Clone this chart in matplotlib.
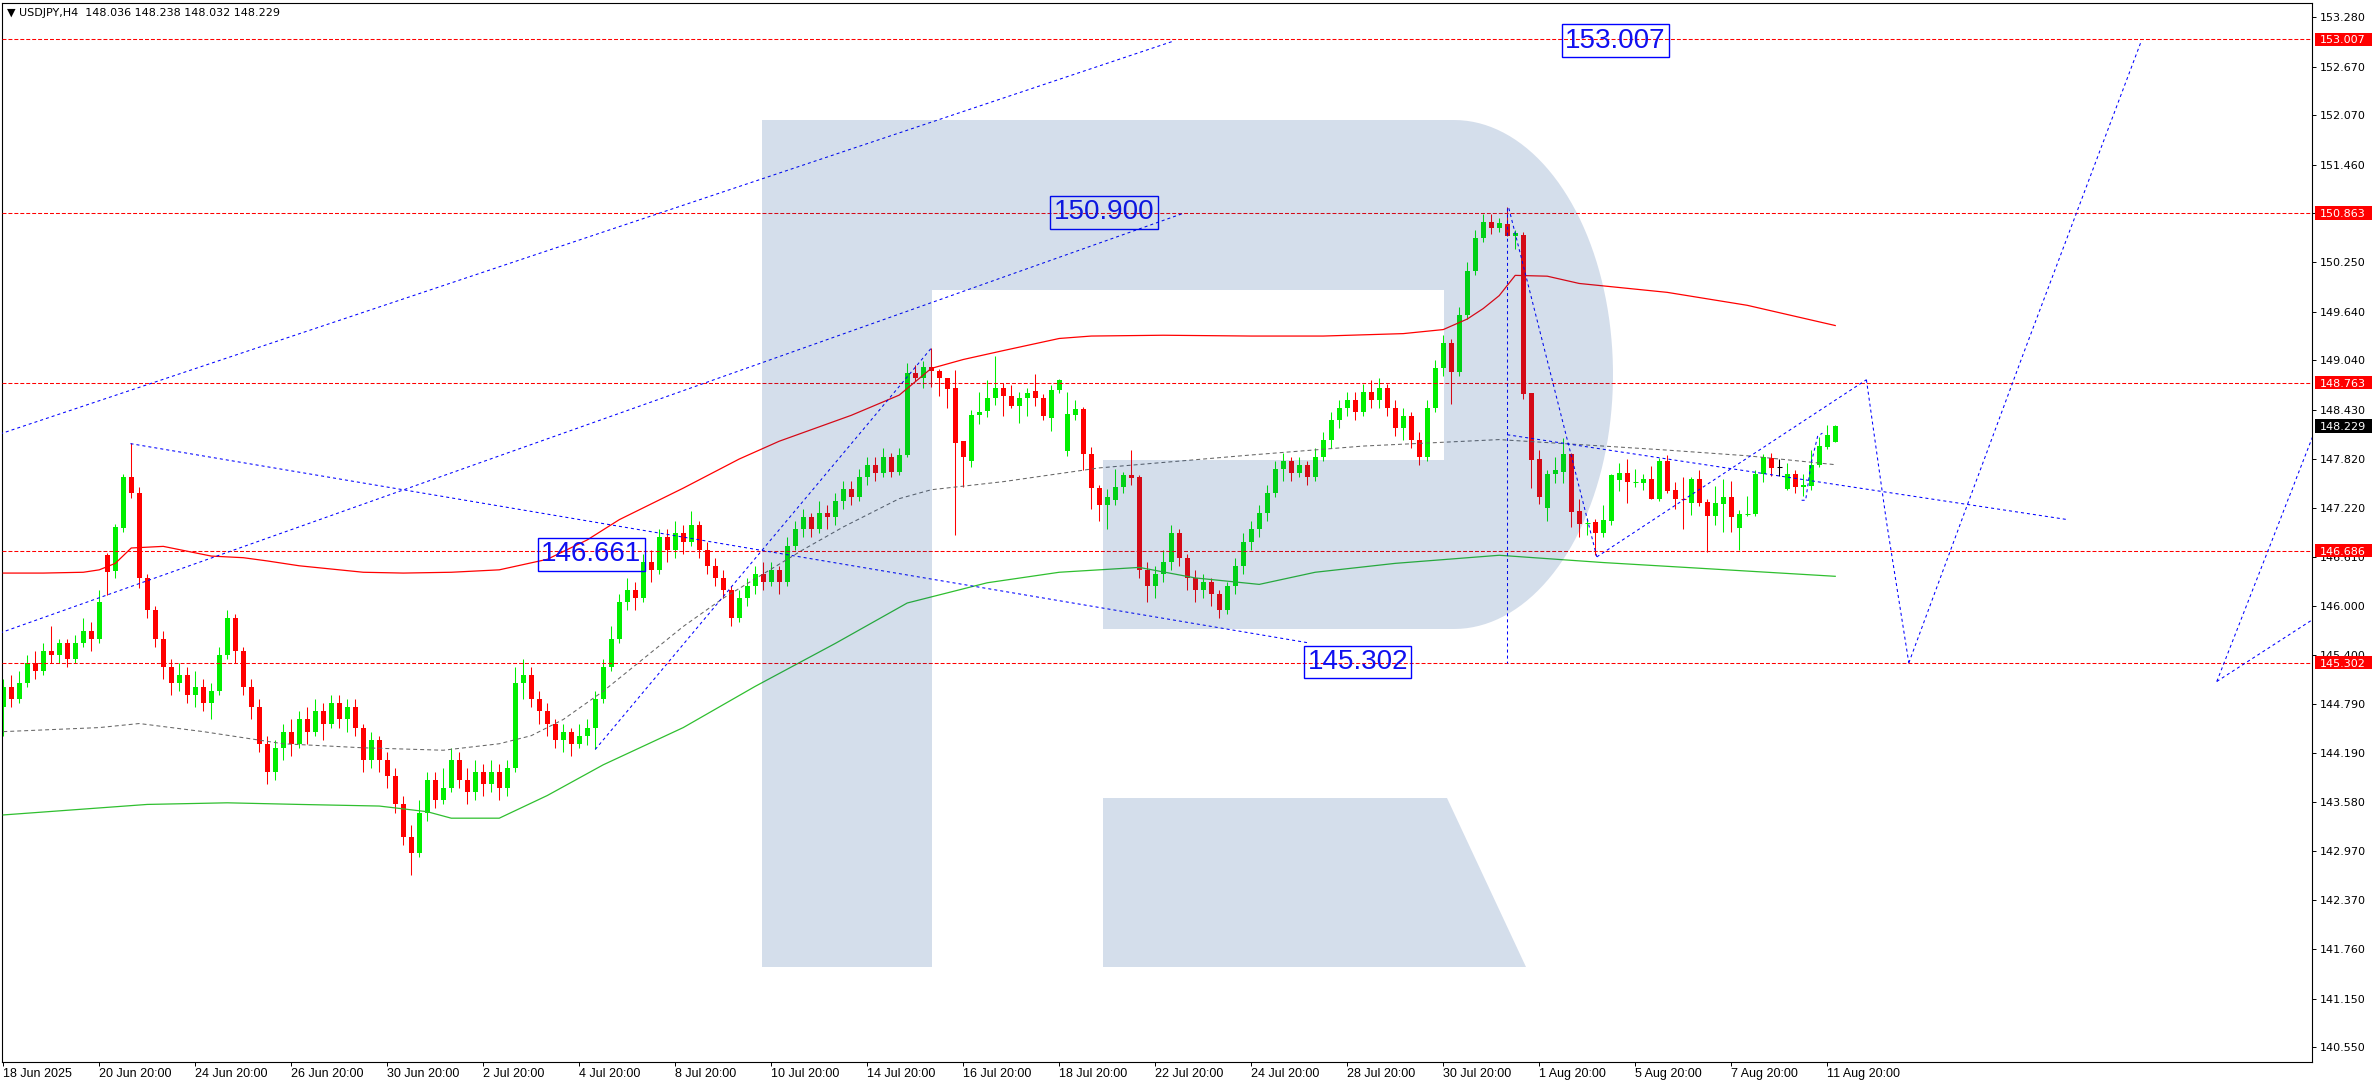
import numpy as np
import matplotlib.pyplot as plt
from matplotlib.patches import Polygon, Rectangle
from matplotlib.transforms import blended_transform_factory

# USDJPY H4 bars, 18 Jun 2025 20:00 .. 12 Aug 2025 00:00
opens = [144.75, 145.00, 144.85, 145.05, 145.30, 145.20, 145.45, 145.40, 145.55, 145.35,
         145.55, 145.70, 145.60, 146.63, 146.44, 146.97, 147.60, 147.40, 146.35, 145.95,
         145.60, 145.25, 145.05, 145.15, 144.90, 145.00, 144.80, 144.95, 145.40, 145.85,
         145.45, 145.00, 144.75, 144.30, 143.95, 144.25, 144.45, 144.30, 144.60, 144.45,
         144.70, 144.55, 144.80, 144.60, 144.75, 144.50, 144.10, 144.35, 144.10, 143.90,
         143.55, 143.15, 142.95, 143.45, 143.85, 143.60, 143.75, 144.10, 143.85, 143.70,
         143.95, 143.80, 143.95, 143.75, 144.00, 145.05, 145.15, 144.85, 144.70, 144.55,
         144.35, 144.45, 144.30, 144.40, 144.50, 144.85, 145.25, 145.60, 146.05, 146.20,
         146.10, 146.55, 146.45, 146.85, 146.70, 146.90, 146.80, 147.00, 146.70, 146.50,
         146.35, 146.20, 145.85, 146.10, 146.25, 146.40, 146.30, 146.45, 146.30, 146.75,
         146.95, 147.10, 146.95, 147.15, 147.10, 147.30, 147.45, 147.35, 147.60, 147.75,
         147.65, 147.85, 147.66, 147.87, 148.88, 148.82, 148.96, 148.91, 148.82, 148.70,
         148.04, 147.80, 148.37, 148.41, 148.57, 148.70, 148.60, 148.47, 148.57, 148.66,
         148.58, 148.33, 148.67, 147.92, 148.37, 148.44, 147.88, 147.46, 147.25, 147.31,
         147.48, 147.62, 147.60, 146.45, 146.25, 146.40, 146.55, 146.90, 146.60, 146.35,
         146.20, 146.30, 146.15, 145.95, 146.25, 146.50, 146.80, 146.95, 147.15, 147.40,
         147.70, 147.80, 147.65, 147.75, 147.60, 147.85, 148.05, 148.30, 148.45, 148.55,
         148.40, 148.65, 148.55, 148.70, 148.45, 148.20, 148.35, 148.05, 147.85, 148.45,
         148.95, 149.25, 148.90, 149.60, 150.15, 150.55, 150.75, 150.68, 150.73, 150.58,
         150.59, 148.63, 147.82, 147.22, 147.64, 147.66, 147.88, 147.18, 147.03, 147.04,
         146.91, 147.05, 147.56, 147.65, 147.53, 147.52, 147.57, 147.33, 147.80, 147.44,
         147.33, 147.27, 147.57, 147.29, 147.11, 147.26, 147.35, 146.97, 147.14, 147.14,
         147.63, 147.83, 147.72, 147.45, 147.64, 147.47, 147.49, 147.74, 147.97, 148.036]
highs = [145.10, 145.15, 145.20, 145.40, 145.45, 145.55, 145.75, 145.60, 145.60, 145.65,
         145.85, 145.80, 146.20, 146.66, 147.02, 147.63, 148.02, 147.48, 146.40, 146.00,
         145.70, 145.35, 145.30, 145.25, 145.20, 145.10, 145.05, 145.50, 145.95, 145.90,
         145.50, 145.10, 144.85, 144.40, 144.35, 144.55, 144.60, 144.70, 144.75, 144.85,
         144.80, 144.90, 144.90, 144.85, 144.85, 144.55, 144.45, 144.40, 144.20, 144.00,
         143.65, 143.30, 143.60, 143.95, 143.95, 144.00, 144.25, 144.20, 144.00, 144.10,
         144.05, 144.10, 144.05, 144.10, 145.25, 145.35, 145.25, 144.95, 144.80, 144.60,
         144.55, 144.50, 144.55, 144.60, 144.95, 145.35, 145.75, 146.15, 146.35, 146.30,
         146.65, 146.70, 146.95, 146.95, 147.05, 147.00, 147.18, 147.05, 146.80, 146.60,
         146.45, 146.25, 146.20, 146.35, 146.50, 146.55, 146.55, 146.50, 146.85, 147.05,
         147.20, 147.15, 147.30, 147.25, 147.40, 147.55, 147.55, 147.70, 147.85, 147.85,
         147.95, 147.90, 147.95, 149.01, 148.98, 149.03, 149.19, 148.93, 148.82, 148.92,
         148.04, 148.42, 148.65, 148.80, 149.09, 148.76, 148.73, 148.65, 148.70, 148.87,
         148.62, 148.73, 148.81, 148.65, 148.55, 148.46, 147.97, 147.50, 147.45, 147.70,
         147.66, 147.93, 147.62, 146.55, 146.50, 146.70, 147.00, 146.95, 146.65, 146.45,
         146.40, 146.35, 146.20, 146.30, 146.60, 146.90, 147.05, 147.25, 147.50, 147.80,
         147.90, 147.85, 147.85, 147.80, 147.95, 148.15, 148.40, 148.55, 148.65, 148.65,
         148.75, 148.80, 148.82, 148.75, 148.55, 148.45, 148.40, 148.15, 148.55, 149.05,
         149.35, 149.30, 149.70, 150.25, 150.65, 150.85, 150.85, 150.80, 150.94, 150.65,
         150.62, 148.63, 147.93, 147.68, 147.85, 148.08, 147.89, 147.33, 147.09, 147.08,
         147.25, 147.63, 147.77, 147.82, 147.70, 147.63, 147.73, 147.83, 147.87, 147.54,
         147.60, 147.60, 147.69, 147.33, 147.49, 147.57, 147.55, 147.19, 147.36, 147.69,
         147.88, 147.90, 147.82, 147.77, 147.69, 147.64, 147.93, 148.09, 148.24, 148.238]
lows = [144.40, 144.75, 144.80, 145.00, 145.10, 145.15, 145.30, 145.30, 145.25, 145.30,
        145.50, 145.45, 145.55, 146.14, 146.35, 146.92, 147.34, 146.23, 145.85, 145.50,
        145.10, 144.90, 144.95, 144.80, 144.75, 144.70, 144.60, 144.90, 145.35, 145.30,
        144.90, 144.60, 144.20, 143.80, 143.85, 144.10, 144.15, 144.25, 144.30, 144.40,
        144.35, 144.50, 144.50, 144.45, 144.40, 143.95, 144.00, 143.95, 143.75, 143.45,
        143.05, 142.68, 142.90, 143.35, 143.50, 143.55, 143.70, 143.75, 143.55, 143.60,
        143.65, 143.70, 143.60, 143.65, 143.95, 144.85, 144.75, 144.55, 144.40, 144.25,
        144.20, 144.15, 144.25, 144.28, 144.23, 144.80, 145.20, 145.55, 145.95, 145.95,
        146.05, 146.30, 146.40, 146.55, 146.60, 146.65, 146.75, 146.60, 146.40, 146.25,
        146.10, 145.75, 145.80, 146.00, 146.15, 146.20, 146.25, 146.15, 146.25, 146.70,
        146.85, 146.85, 146.90, 146.95, 147.00, 147.20, 147.25, 147.30, 147.50, 147.55,
        147.60, 147.60, 147.62, 147.85, 148.79, 148.70, 148.71, 148.60, 148.45, 146.88,
        147.48, 147.72, 148.25, 148.34, 148.49, 148.35, 148.45, 148.26, 148.35, 148.48,
        148.30, 148.17, 148.64, 147.86, 148.30, 147.68, 147.20, 147.05, 146.95, 147.25,
        147.40, 147.50, 146.35, 146.05, 146.10, 146.30, 146.45, 146.50, 146.20, 146.05,
        146.10, 146.00, 145.85, 145.90, 146.15, 146.40, 146.70, 146.85, 147.05, 147.35,
        147.55, 147.55, 147.60, 147.50, 147.55, 147.80, 147.95, 148.20, 148.35, 148.30,
        148.35, 148.45, 148.45, 148.35, 148.10, 148.05, 147.95, 147.75, 147.80, 148.40,
        148.85, 148.50, 148.85, 149.55, 150.10, 150.50, 150.60, 150.62, 150.58, 150.41,
        148.56, 147.46, 147.26, 147.05, 147.52, 147.52, 146.98, 146.85, 146.88, 146.63,
        146.86, 147.00, 147.42, 147.28, 147.47, 147.44, 147.32, 147.30, 147.40, 147.20,
        146.96, 147.13, 147.24, 146.67, 147.00, 146.92, 146.92, 146.69, 147.11, 147.12,
        147.53, 147.61, 147.61, 147.44, 147.40, 147.36, 147.44, 147.72, 147.94, 148.032]
closes = [145.00, 144.85, 145.05, 145.30, 145.20, 145.45, 145.40, 145.55, 145.35, 145.55,
          145.70, 145.60, 146.05, 146.42, 146.98, 147.60, 147.40, 146.35, 145.95, 145.60,
          145.25, 145.05, 145.15, 144.90, 145.00, 144.80, 144.95, 145.40, 145.85, 145.45,
          145.00, 144.75, 144.30, 143.95, 144.25, 144.45, 144.30, 144.60, 144.45, 144.70,
          144.55, 144.80, 144.60, 144.75, 144.50, 144.10, 144.35, 144.10, 143.90, 143.55,
          143.15, 142.95, 143.45, 143.85, 143.60, 143.75, 144.10, 143.85, 143.70, 143.95,
          143.80, 143.95, 143.75, 144.00, 145.05, 145.15, 144.85, 144.70, 144.55, 144.35,
          144.45, 144.30, 144.40, 144.50, 144.85, 145.25, 145.60, 146.05, 146.20, 146.10,
          146.55, 146.45, 146.85, 146.70, 146.90, 146.80, 147.00, 146.70, 146.50, 146.35,
          146.20, 145.85, 146.10, 146.25, 146.40, 146.30, 146.45, 146.30, 146.75, 146.95,
          147.10, 146.95, 147.15, 147.10, 147.30, 147.45, 147.35, 147.60, 147.75, 147.65,
          147.85, 147.66, 147.87, 148.88, 148.82, 148.96, 148.91, 148.82, 148.69, 148.02,
          147.84, 148.37, 148.40, 148.58, 148.70, 148.60, 148.47, 148.58, 148.64, 148.57,
          148.35, 148.67, 148.80, 148.38, 148.44, 147.88, 147.46, 147.25, 147.35, 147.48,
          147.62, 147.59, 146.45, 146.25, 146.40, 146.55, 146.90, 146.60, 146.35, 146.20,
          146.30, 146.15, 145.95, 146.25, 146.50, 146.80, 146.95, 147.15, 147.40, 147.70,
          147.80, 147.65, 147.75, 147.60, 147.85, 148.05, 148.30, 148.45, 148.55, 148.40,
          148.65, 148.55, 148.70, 148.45, 148.20, 148.35, 148.05, 147.85, 148.45, 148.95,
          149.25, 148.90, 149.60, 150.15, 150.55, 150.75, 150.68, 150.74, 150.58, 150.61,
          148.62, 147.81, 147.35, 147.64, 147.68, 147.88, 147.17, 147.02, 147.04, 146.91,
          147.07, 147.62, 147.65, 147.53, 147.54, 147.57, 147.33, 147.80, 147.42, 147.33,
          147.32, 147.57, 147.28, 147.11, 147.27, 147.35, 147.10, 147.14, 147.15, 147.63,
          147.84, 147.71, 147.72, 147.64, 147.47, 147.50, 147.74, 147.98, 148.12, 148.229]

# moving averages, sampled at bar indices
red_ma_bars = [0, 5, 10, 12, 14, 16, 20, 22, 26, 30, 33, 37, 41, 45, 50, 56, 62, 68, 73, 77,
               85, 92, 97, 106, 112, 116, 120, 125, 132, 136, 145, 156, 165, 175, 180, 183,
               185, 187, 189, 193, 197, 208, 218, 229]
red_ma = [146.41, 146.41, 146.42, 146.45, 146.53, 146.72, 146.74, 146.70, 146.62, 146.60,
          146.56, 146.50, 146.46, 146.42, 146.41, 146.42, 146.45, 146.58, 146.82, 147.07,
          147.46, 147.82, 148.04, 148.36, 148.61, 148.94, 149.05, 149.16, 149.31, 149.34,
          149.35, 149.34, 149.34, 149.37, 149.42, 149.55, 149.68, 149.84, 150.09, 150.08,
          149.99, 149.88, 149.72, 149.47]
gray_ma_bars = [0, 12, 17, 25, 35, 45, 55, 62, 66, 70, 75, 80, 85, 90, 95, 100, 105, 112,
                116, 125, 137, 156, 170, 187, 200, 208, 218, 229]
gray_ma = [144.45, 144.50, 144.55, 144.45, 144.30, 144.25, 144.22, 144.30, 144.40, 144.60,
           144.95, 145.35, 145.75, 146.10, 146.40, 146.70, 146.98, 147.33, 147.44, 147.54,
           147.71, 147.87, 147.98, 148.06, 147.98, 147.93, 147.86, 147.75]
green_ma_bars = [0, 18, 28, 37, 47, 53, 56, 62, 68, 75, 85, 94, 104, 113, 123, 132, 142,
                 149, 157, 164, 174, 187, 200, 212, 229]
green_ma = [143.42, 143.55, 143.57, 143.55, 143.53, 143.46, 143.38, 143.38, 143.66, 144.04,
            144.50, 145.01, 145.54, 146.04, 146.29, 146.42, 146.48, 146.35, 146.27, 146.42,
            146.53, 146.63, 146.54, 146.47, 146.37]

# horizontal levels
levels = [153.007, 150.863, 148.763, 146.686, 145.302]
last_price = 148.229

# analysis lines (bar, price)
blue_lines = [
    ([-0.4, 146.4], [148.13, 152.99]),
    ([-0.4, 147.3], [145.67, 150.85]),
    ([15.9, 163.0], [148.01, 145.55]),
    ([74.0, 116.0], [144.23, 149.19]),
    ([188.0, 188.0], [150.92, 145.30]),
    ([188.2, 199.2], [150.92, 146.61]),
    ([188.0, 258.1], [148.12, 147.07]),
    ([199.2, 232.9], [146.61, 148.80]),
    ([232.9, 235.4, 238.2], [148.80, 147.05, 145.30]),
    ([238.2, 252.4, 267.2], [145.30, 149.09, 152.97]),
    ([224.8, 225.3, 226.0, 226.8, 227.4], [147.31, 147.31, 147.77, 148.10, 148.14]),
    ([276.7, 286.2, 290.0], [145.07, 147.47, 148.43]),
    ([276.7, 288.6], [145.07, 145.83]),
]
box_labels = ['153.007', '150.900', '146.661', '145.302']
box_bars = [201.5, 137.6, 73.5, 169.3]
box_prices = [152.99, 150.87, 146.64, 145.31]

yticks = [153.280, 152.670, 152.070, 151.460, 150.860, 150.250, 149.640, 149.040, 148.430,
          147.820, 147.220, 146.610, 146.000, 145.400, 144.790, 144.190, 143.580, 142.970,
          142.370, 141.760, 141.150, 140.550]
xtick_bars = list(range(0, 229, 12))
xtick_labels = ['18 Jun 2025', '20 Jun 20:00', '24 Jun 20:00', '26 Jun 20:00', '30 Jun 20:00',
                '2 Jul 20:00', '4 Jul 20:00', '8 Jul 20:00', '10 Jul 20:00', '14 Jul 20:00',
                '16 Jul 20:00', '18 Jul 20:00', '22 Jul 20:00', '24 Jul 20:00', '28 Jul 20:00',
                '30 Jul 20:00', '1 Aug 20:00', '5 Aug 20:00', '7 Aug 20:00', '11 Aug 20:00']

GREEN = '#00ee00'
RED = '#ff0000'
BLUE = '#0000ff'

W, H = 2376, 1090
fig = plt.figure(figsize=(W / 100, H / 100), dpi=100)
ax = fig.add_axes([2 / W, 1 - 1062 / H, 2310 / W, 1059 / H])
ax.set_xlim(-0.16, 288.6)
ax.set_ylim(140.366, 153.457)

# candles
o = np.array(opens)
h = np.array(highs)
l = np.array(lows)
c = np.array(closes)
x = np.arange(len(c))
cols = np.where(c > o, GREEN, np.where(c < o, RED, 'black'))
ax.vlines(x, l, h, colors=cols, lw=0.75, zorder=2)
small = np.abs(c - o) < 0.015
big = ~small
ax.bar(x[big], np.abs(c - o)[big], bottom=np.minimum(o, c)[big], width=0.62,
       color=cols[big], lw=0, zorder=2.1)
ax.hlines(o[small], x[small] - 0.31, x[small] + 0.31, colors=cols[small], lw=0.75, zorder=2.1)

# indicators
ax.plot(red_ma_bars, red_ma, color=RED, lw=0.9, zorder=3)
ax.plot(green_ma_bars, green_ma, color='#2fbf2f', lw=0.9, zorder=3)
ax.plot(gray_ma_bars, gray_ma, color='#666666', lw=0.75, dashes=(3.8, 2.9), zorder=3)

for lv in levels:
    ax.axhline(lv, color=RED, lw=0.75, dashes=(3.8, 1.9), zorder=3)

for bx, by in blue_lines:
    ax.plot(bx, by, color=BLUE, lw=0.75, dashes=(2.9, 2.9), zorder=4)

for txt, bx, by in zip(box_labels, box_bars, box_prices):
    ax.text(bx, by, txt, fontsize=20, family=['Liberation Sans', 'DejaVu Sans'],
            color='#1010f0', ha='center', va='center', zorder=5,
            bbox=dict(boxstyle='square,pad=0.12', fc='none', ec=BLUE, lw=1.0))

# watermark logo, drawn in figure pixels on top with transparency
def to_fig(pts):
    return [(px / W, 1 - py / H) for px, py in pts]

t = np.linspace(-np.pi / 2, np.pi / 2, 80)
arc = list(zip(1454 + 159 * np.cos(t), 374.5 + 254.5 * np.sin(t)))
bowl = [(762, 120)] + arc + [(1103, 629), (1103, 460), (1444, 460), (1444, 290),
                             (932, 290), (932, 967), (762, 967)]
leg = [(1103, 798), (1447, 798), (1526, 967), (1103, 967)]
for shape in (bowl, leg):
    ax.add_patch(Polygon(to_fig(shape), closed=True, transform=fig.transFigure,
                         fc=(0, 0.235, 0.55, 0.17), ec='none', zorder=8))

# axes styling
for sp in ax.spines.values():
    sp.set_color('black')
    sp.set_linewidth(0.8)
ax.yaxis.tick_right()
ax.set_yticks(yticks)
ax.set_yticklabels([f'{v:.3f}' for v in yticks])
ax.tick_params(axis='y', right=True, left=False, length=2.9, width=0.7, pad=2.9,
               labelsize=8, colors='black')

ax.set_xticks(xtick_bars)
ax.set_xticklabels(xtick_labels, fontsize=9, family=['Liberation Sans', 'DejaVu Sans'],
                   ha='left')
ax.tick_params(axis='x', length=2.9, width=0.7, pad=1.5)

# price tags on the right axis
tr = blended_transform_factory(ax.transAxes, ax.transData)
tag_x = (2315 - 2) / 2310
tag_w = 57 / 2310
tag_h = 13.5 / 80.9
for lv, fc in [(v, RED) for v in levels] + [(last_price, 'black')]:
    ax.add_patch(Rectangle((tag_x, lv - tag_h / 2), tag_w, tag_h, transform=tr, fc=fc,
                           ec='none', clip_on=False, zorder=6))
    ax.text(tag_x + 5 / 2310, lv, f'{lv:.3f}', transform=tr, color='white', fontsize=8,
            ha='left', va='center_baseline', clip_on=False, zorder=7)

fig.text(7 / W, 1 - 13 / H, '\u25bc USDJPY,H4  148.036 148.238 148.032 148.229',
         fontsize=8, ha='left', va='center', color='black')

fig.savefig('out.png', dpi=100)
